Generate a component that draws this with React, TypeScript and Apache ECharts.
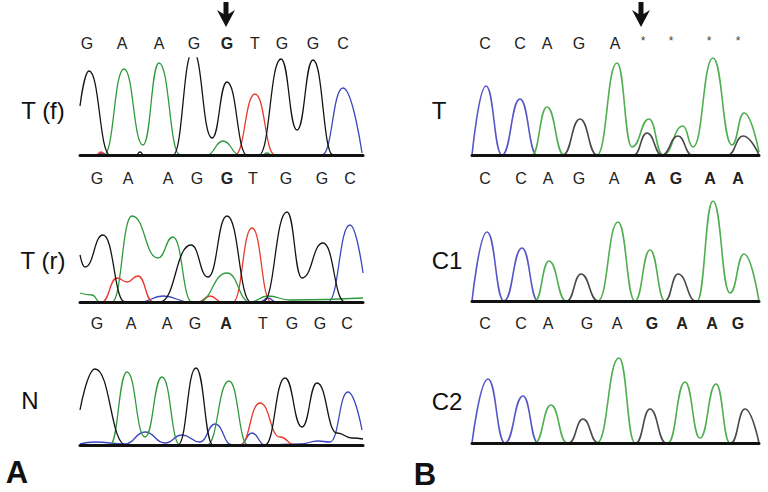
import React, { useEffect, useRef } from "react";
import * as echarts from "echarts";

// ---------- base-call letters ----------
const seqA1 = ["G", "A", "A", "G", "G", "T", "G", "G", "C"];
const seqA2 = ["G", "A", "A", "G", "G", "T", "G", "G", "C"];
const seqA3 = ["G", "A", "A", "G", "A", "T", "G", "G", "C"];
const seqB1 = ["C", "C", "A", "G", "A"];
const seqB1Stars = ["*", "*", "*", "*"];
const seqB2 = ["C", "C", "A", "G", "A", "A", "G", "A", "A"];
const seqB3 = ["C", "C", "A", "G", "A", "G", "A", "A", "G"];
const boldA1 = [4];
const boldA2 = [4];
const boldA3 = [4];
const boldB2 = [5, 6, 7, 8];
const boldB3 = [5, 6, 7, 8];

const traceLabels = ["T (f)", "T (r)", "N", "T", "C1", "C2"];
const panelLabels = ["A", "B"];

// ---------- chromatogram signals: [scan position, intensity] ----------
// Panel A, T (f)
const tfBlack = [[80, 49], [89, 84], [110, 0], [136, 0], [140, 3], [144, 0], [173, 0], [193, 104], [212, 17], [227, 73], [247, 0], [259, 0], [281, 96], [297, 25], [313, 95], [333, 0], [363, 0]];
const tfGreen = [[80, 0], [104, 0], [124, 86], [143, 10], [159, 92], [180, 0], [207, 0], [223, 14], [240, 0], [262, 0], [267, 2], [272, 0], [363, 0]];
const tfRed = [[80, 0], [96, 0], [101, 3], [106, 0], [235, 0], [255, 61], [275, 0], [363, 0]];
const tfBlue = [[80, 0], [97, 0], [102, 2], [107, 0], [322, 0], [343, 67], [362, 2]];

// Panel A, T (r)
const trBlack = [[80, 47], [85, 35], [103, 67], [125, 0], [160, 0], [191, 57], [208, 25], [227, 86], [251, 0], [263, 0], [287, 90], [302, 24], [323, 59], [345, 0], [363, 0]];
const trGreen = [[80, 9], [92, 7], [100, 0], [112, 0], [132, 86], [158, 44], [173, 65], [192, 0], [198, 0], [227, 29], [250, 0], [268, 6], [290, 2], [363, 4]];
const trRed = [[80, 0], [102, 0], [117, 24], [127, 20], [138, 26], [153, 0], [198, 0], [210, 6], [222, 0], [233, 0], [252, 74], [271, 0], [363, 0]];
const trBlue = [[80, 0], [140, 0], [163, 6], [190, 0], [260, 0], [268, 4], [276, 0], [328, 0], [350, 77], [363, 29]];

// Panel A, N
const nBlack = [[80, 35], [95, 76], [126, 0], [178, 0], [196, 77], [213, 0], [265, 0], [285, 67], [302, 18], [317, 62], [337, 12], [352, 7], [363, 6]];
const nGreen = [[80, 0], [110, 0], [127, 73], [145, 8], [162, 68], [180, 0], [207, 0], [229, 64], [248, 0], [363, 0]];
const nRed = [[80, 0], [240, 0], [260, 42], [280, 8], [295, 0], [363, 0]];
const nBlue = [[80, 1], [95, 3], [125, 1], [145, 13], [165, 2], [182, 10], [200, 3], [215, 21], [232, 0], [240, 0], [252, 12], [265, 0], [300, 1], [318, 4], [330, 3], [348, 53], [362, 15]];

// Panel B, T
const btBlack = [[472, 0], [563, 0], [580, 36], [597, 0], [634, 0], [647, 22], [662, 0], [678, 19], [692, 0], [728, 0], [743, 19], [759, 0]];
const btGreen = [[472, 0], [532, 0], [547, 48], [564, 0], [597, 0], [617, 92], [632, 8], [649, 36], [663, 0], [683, 29], [693, 8], [713, 97], [732, 10], [744, 42], [759, 3]];
const btBlue = [[472, 0], [486, 69], [502, 0], [520, 56], [537, 0], [759, 0]];

// Panel B, C1
const c1Black = [[472, 0], [567, 0], [581, 27], [598, 0], [665, 0], [678, 27], [696, 0], [759, 0]];
const c1Green = [[472, 0], [535, 0], [549, 40], [566, 0], [598, 0], [618, 79], [635, 0], [650, 51], [665, 0], [697, 0], [713, 100], [730, 8], [744, 47], [759, 0]];
const c1Blue = [[472, 0], [487, 69], [504, 0], [522, 53], [538, 0], [759, 0]];

// Panel B, C2
const c2Black = [[472, 0], [569, 0], [583, 24], [598, 0], [636, 0], [650, 34], [666, 0], [731, 0], [745, 34], [759, 0]];
const c2Green = [[472, 0], [535, 0], [551, 38], [567, 0], [597, 0], [619, 85], [635, 0], [668, 0], [685, 61], [700, 5], [716, 59], [730, 0], [759, 0]];
const c2Blue = [[472, 0], [488, 64], [505, 0], [523, 47], [538, 0], [759, 0]];

// ---------- layout ----------
const FONT = '"Liberation Sans", Arial, Helvetica, sans-serif';
const COL_A = { G: "#141414", A: "#2f9a3c", T: "#e8392a", C: "#3c46bd" };
const COL_B = { G: "#4a4a4a", A: "#4fae4f", T: "#e04a3a", C: "#5656c6" };

const tracesLayout = [
  { left: 80, right: 363, baseline: 155, h: 97, col: COL_A },
  { left: 80, right: 363, baseline: 302, h: 100, col: COL_A },
  { left: 80, right: 363, baseline: 445, h: 100, col: COL_A },
  { left: 472, right: 759, baseline: 155, h: 100, col: COL_B },
  { left: 472, right: 759, baseline: 301, h: 100, col: COL_B },
  { left: 472, right: 759, baseline: 443, h: 100, col: COL_B },
];
const traceChannels: any[] = [
  { G: tfBlack, A: tfGreen, T: tfRed, C: tfBlue },
  { G: trBlack, A: trGreen, T: trRed, C: trBlue },
  { G: nBlack, A: nGreen, T: nRed, C: nBlue },
  { G: btBlack, A: btGreen, C: btBlue },
  { G: c1Black, A: c1Green, C: c1Blue },
  { G: c2Black, A: c2Green, C: c2Blue },
];

const rowsLayout = [
  { seq: seqA1, bold: boldA1, y: 43, xs: [87, 122, 159, 194, 227, 255, 282, 313, 343] },
  { seq: seqA2, bold: boldA2, y: 178, xs: [97, 128, 168, 197, 227, 253, 286, 322, 350] },
  { seq: seqA3, bold: boldA3, y: 323, xs: [97, 131, 167, 195, 226, 263, 292, 320, 347] },
  { seq: seqB1, bold: [], y: 43, xs: [485, 520, 547, 579, 615] },
  { seq: seqB2, bold: boldB2, y: 178, xs: [485, 521, 548, 579, 614, 650, 676, 710, 738] },
  { seq: seqB3, bold: boldB3, y: 323, xs: [485, 521, 548, 587, 617, 652, 682, 712, 738] },
];
const starXs = [643, 671, 709, 738];
const traceLabelPos = [
  [43, 110], [43, 260], [30, 400], [439, 110], [447, 260], [447, 401],
];
const panelLabelPos = [[17, 472], [425, 474]];
const arrowXs = [226, 641];

function arrow(cx: number) {
  return {
    type: "polygon",
    shape: {
      points: [
        [cx - 2.5, 2], [cx + 2.5, 2], [cx + 2.5, 14], [cx + 9, 10],
        [cx, 27], [cx - 9, 10], [cx - 2.5, 14],
      ],
    },
    style: { fill: "#111" },
    silent: true,
  };
}

export default function App() {
  const ref = useRef<HTMLDivElement>(null);
  useEffect(() => {
    if (!ref.current) return;
    const chart = echarts.init(ref.current, null, { renderer: "svg" });
    const grid: any[] = [];
    const xAxis: any[] = [];
    const yAxis: any[] = [];
    const series: any[] = [];
    tracesLayout.forEach((t, i) => {
      grid.push({ left: t.left, top: t.baseline - t.h, width: t.right - t.left, height: t.h });
      xAxis.push({
        gridIndex: i, type: "value", min: t.left, max: t.right, z: 5,
        axisLine: { show: true, onZero: false, lineStyle: { color: "#111", width: 3 } },
        axisTick: { show: false }, axisLabel: { show: false }, splitLine: { show: false },
      });
      yAxis.push({ gridIndex: i, type: "value", min: 0, max: t.h, show: false, splitLine: { show: false } });
      const ch = traceChannels[i];
      ["C", "T", "A", "G"].forEach((b) => {
        if (!ch[b]) return;
        series.push({
          type: "line", xAxisIndex: i, yAxisIndex: i, data: ch[b],
          smooth: 0.5, smoothMonotone: "x", symbol: "none", showSymbol: false,
          silent: true, clip: true, z: 3,
          lineStyle: { color: (t.col as any)[b], width: i < 3 ? 1.3 : 1.6 },
        });
      });
    });

    const graphic: any[] = [];
    rowsLayout.forEach((r) => {
      r.seq.forEach((s, k) => {
        graphic.push({
          type: "text", x: r.xs[k], y: r.y, silent: true,
          style: {
            text: s, fill: "#222", font: `${r.bold.includes(k) ? "bold " : ""}16px ${FONT}`,
            textAlign: "center", textVerticalAlign: "middle",
          },
        });
      });
    });
    seqB1Stars.forEach((s, k) => {
      graphic.push({
        type: "text", x: starXs[k], y: 41, silent: true,
        style: { text: s, fill: "#444", font: `12px ${FONT}`, textAlign: "center", textVerticalAlign: "middle" },
      });
    });
    traceLabels.forEach((s, k) => {
      graphic.push({
        type: "text", x: traceLabelPos[k][0], y: traceLabelPos[k][1], silent: true,
        style: { text: s, fill: "#111", font: `24px ${FONT}`, textAlign: "center", textVerticalAlign: "middle" },
      });
    });
    panelLabels.forEach((s, k) => {
      graphic.push({
        type: "text", x: panelLabelPos[k][0], y: panelLabelPos[k][1], silent: true,
        style: { text: s, fill: "#111", font: `bold 31px ${FONT}`, textAlign: "center", textVerticalAlign: "middle" },
      });
    });
    arrowXs.forEach((x) => graphic.push(arrow(x)));

    chart.setOption({
      animation: false,
      backgroundColor: "#ffffff",
      grid, xAxis, yAxis, series, graphic,
    });
    return () => chart.dispose();
  }, []);
  return (
    <div
      ref={ref}
      style={{ position: "fixed", left: 0, top: 0, width: 768, height: 492, background: "#fff" }}
    />
  );
}
